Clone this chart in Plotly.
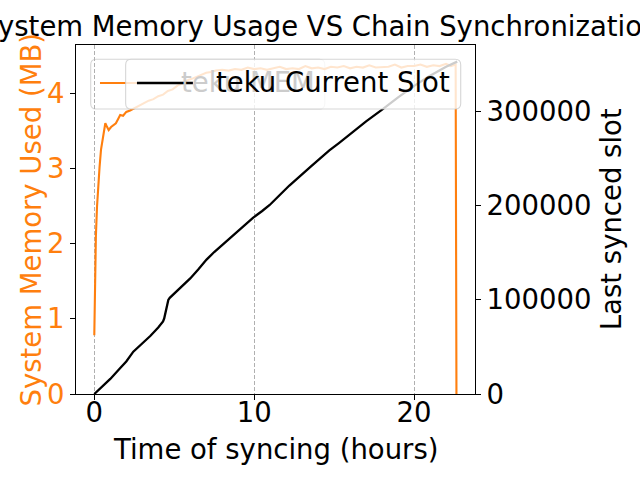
import plotly.graph_objects as go

# ---------------- data ----------------
mem_hours = [0.0, 0.02, 0.05, 0.1, 0.17, 0.25, 0.33, 0.42, 0.48, 0.55, 0.62, 0.69, 0.78,
             0.9, 1.05, 1.2, 1.35, 1.5, 1.62, 1.8, 2.0, 2.24, 2.5, 2.8, 3.1, 3.4, 3.7,
             4.0, 4.3, 4.6, 4.9, 5.2, 5.5, 5.8, 6.1, 6.4, 6.7, 7.0, 7.3, 7.6, 8.0, 8.4,
             8.8, 9.2, 9.6, 10.0, 10.4, 10.8, 11.2, 11.6, 12.0, 12.4, 12.8, 13.2, 13.6,
             14.0, 14.4, 14.8, 15.2, 15.6, 16.0, 16.4, 16.8, 17.2, 17.6, 18.0, 18.4,
             18.8, 19.2, 19.6, 20.0, 20.4, 20.8, 21.2, 21.6, 22.0, 22.3, 22.6, 22.65]
mem_mb = [0.78, 1.2, 1.69, 2.1, 2.49, 2.8, 3.02, 3.25, 3.33, 3.45, 3.55, 3.6, 3.56,
          3.51, 3.55, 3.57, 3.6, 3.66, 3.71, 3.7, 3.75, 3.77, 3.8, 3.83, 3.87, 3.9, 3.92,
          3.96, 3.98, 4.03, 4.05, 4.1, 4.13, 4.17, 4.19, 4.22, 4.24, 4.27, 4.28, 4.3, 4.31,
          4.3, 4.32, 4.31, 4.34, 4.32, 4.33, 4.31, 4.33, 4.35, 4.32, 4.33, 4.32, 4.36, 4.33,
          4.34, 4.32, 4.35, 4.34, 4.36, 4.33, 4.35, 4.34, 4.37, 4.34, 4.35, 4.35,
          4.38, 4.34, 4.36, 4.36, 4.38, 4.35, 4.37, 4.36, 4.39, 4.36, 4.38, 0.0]

slot_hours = [0.0, 0.5, 1.0, 1.61, 2.0, 2.44, 3.0, 3.5, 4.0, 4.21, 4.3, 4.37, 4.44, 4.5,
              4.57, 4.63, 4.72, 4.84, 5.1, 5.36, 6.0, 6.5, 7.02, 7.5, 8.0, 8.5, 9.0,
              9.94, 10.5, 10.97, 11.6, 12.2, 13.5, 14.7, 15.3, 16.0, 17.0, 18.0, 19.0,
              20.1, 21.0, 22.0, 22.7]
slot_values = [0, 8000, 16000, 27250, 34500, 44860, 53500, 61500, 70500, 74970, 77000,
               80000, 85000, 90500, 96000, 99680, 102000, 104000, 108500, 112090, 122500,
               132000, 142500, 150500, 158000, 165500, 173000, 187000, 194000, 200400,
               211000, 221000, 240500, 258200, 266000, 275500, 289000, 301500, 314500,
               327700, 337500, 347000, 352400]

x_ticks = [0, 10, 20]
y1_ticks = [0, 1, 2, 3, 4]
y2_ticks = [0, 100000, 200000, 300000]

title_text = "System Memory Usage VS Chain Synchronization"
x_label = "Time of syncing (hours)"
y1_label = "System Memory Used (MB)"
y2_label = "Last synced slot"
mem_name = "teku MEM"
slot_name = "teku Current Slot"

# ---------------- styling / geometry ----------------
ORANGE = "#ff7f0e"
FONT = "DejaVu Sans"
FS = 27.5
W, H = 640, 480
L, R, T, B = 76, 475.3, 45, 394   # plot area in px


def px(xp):
    return (xp - L) / (R - L)


def py(yp):
    return (B - yp) / (B - T)


fig = go.Figure()
fig.add_trace(go.Scatter(x=mem_hours, y=mem_mb, mode="lines", name=mem_name,
                         line=dict(color=ORANGE, width=2.1), yaxis="y"))
fig.add_trace(go.Scatter(x=slot_hours, y=slot_values, mode="lines", name=slot_name,
                         line=dict(color="black", width=2.3), yaxis="y2"))


def rounded_box(x0, y0, x1, y1, r=5.5):
    rx = r / (R - L)
    ry = r / (B - T)
    a, b, c, d = px(x0), px(x1), py(y1), py(y0)  # left,right,bottom,top in paper
    return (f"M{a+rx},{c} L{b-rx},{c} Q{b},{c} {b},{c+ry} L{b},{d-ry} Q{b},{d} {b-rx},{d} "
            f"L{a+rx},{d} Q{a},{d} {a},{d-ry} L{a},{c+ry} Q{a},{c} {a+rx},{c} Z")


shapes = []
# legend 1 (memory)
shapes.append(dict(type="path", xref="paper", yref="paper", layer="between",
                   path=rounded_box(90.7, 59.3, 325, 109),
                   fillcolor="rgba(255,255,255,0.8)",
                   line=dict(color="rgba(204,204,204,0.8)", width=1.1)))
shapes.append(dict(type="line", xref="paper", yref="paper", layer="between",
                   x0=px(100), x1=px(155), y0=py(83), y1=py(83),
                   line=dict(color=ORANGE, width=2.1)))
# legend 2 (slot)
shapes.append(dict(type="path", xref="paper", yref="paper", layer="above",
                   path=rounded_box(125.7, 59.3, 461, 109),
                   fillcolor="rgba(255,255,255,0.8)",
                   line=dict(color="rgba(204,204,204,0.8)", width=1.1)))
shapes.append(dict(type="line", xref="paper", yref="paper", layer="above",
                   x0=px(137), x1=px(193), y0=py(83), y1=py(83),
                   line=dict(color="black", width=2.3)))

annotations = [
    dict(text=mem_name, xref="paper", yref="paper", x=px(179), y=py(82),
         xanchor="left", yanchor="middle", showarrow=False,
         font=dict(family=FONT, size=FS, color="#cccccc")),
    dict(text=slot_name, xref="paper", yref="paper", x=px(214), y=py(82),
         xanchor="left", yanchor="middle", showarrow=False,
         font=dict(family=FONT, size=FS, color="black")),
    dict(text=x_label, xref="paper", yref="paper", x=0.5, y=0, yshift=-(449 - B),
         xanchor="center", yanchor="middle", showarrow=False,
         font=dict(family=FONT, size=FS, color="black")),
    dict(text=y1_label, xref="paper", yref="paper", x=0, xshift=-(L - 30), y=0.5,
         xanchor="center", yanchor="middle", textangle=-90, showarrow=False,
         font=dict(family=FONT, size=FS, color=ORANGE)),
    dict(text=y2_label, xref="paper", yref="paper", x=1, xshift=(611 - R), y=0.5,
         xanchor="center", yanchor="middle", textangle=-90, showarrow=False,
         font=dict(family=FONT, size=FS, color="black")),
]

axis_common = dict(showline=True, linecolor="black", linewidth=1.1, ticks="outside",
                   ticklen=5, tickwidth=1.1, tickcolor="black", zeroline=False)

fig.update_layout(
    width=W, height=H,
    margin=dict(l=L, r=W - R, t=T, b=H - B, pad=0),
    paper_bgcolor="white", plot_bgcolor="white",
    showlegend=False,
    font=dict(family=FONT, size=FS, color="black"),
    title=dict(text=title_text, xref="container", x=0.5, xanchor="center",
               yref="container", y=(H - 26) / H, yanchor="middle",
               font=dict(family=FONT, size=FS, color="black")),
    xaxis=dict(range=[-1.144, 23.81], tickvals=x_ticks, ticktext=[str(v) for v in x_ticks],
               showgrid=True, gridcolor="#b0b0b0", gridwidth=1, griddash="4px,2px",
               mirror=True, ticklabelstandoff=-11,
               tickfont=dict(family=FONT, size=FS, color="black"),
               **axis_common),
    yaxis=dict(range=[0, 4.64], tickvals=y1_ticks, ticktext=[str(v) for v in y1_ticks],
               showgrid=False, mirror=True,
               tickfont=dict(family=FONT, size=FS, color=ORANGE), **axis_common),
    yaxis2=dict(range=[0, 370000], tickvals=y2_ticks, ticktext=[str(v) for v in y2_ticks],
                overlaying="y", side="right", showgrid=False,
                tickfont=dict(family=FONT, size=FS, color="black"), **axis_common),
    shapes=shapes,
    annotations=annotations,
)

fig.write_html("out.html", config={"displayModeBar": False},
               post_script="document.body.style.margin='0px';")
